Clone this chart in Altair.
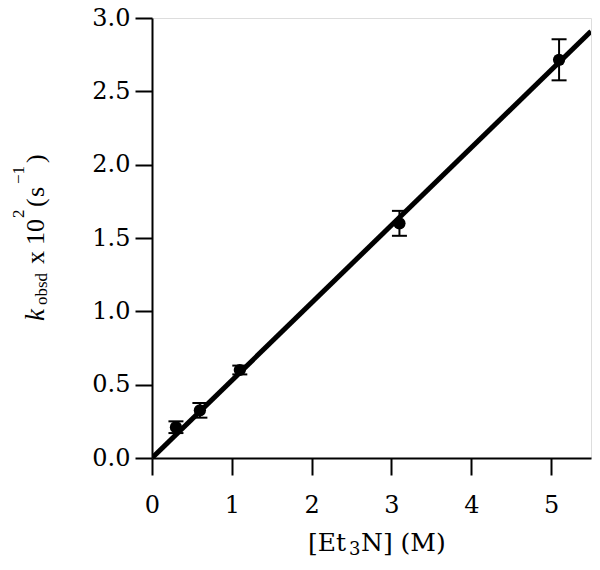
import altair as alt
import pandas as pd

# ---- data ----
conc = [0.3, 0.6, 1.1, 3.1, 5.1]          # [Et3N] (M)
kobs = [0.21, 0.325, 0.60, 1.60, 2.715]   # k_obsd x 10^2 (s^-1)
err = [0.04, 0.05, 0.03, 0.085, 0.14]     # error bar half-widths
fit_x = [0.0, 5.5]
fit_y = [0.0, 2.91]
x_ticks = [0, 1, 2, 3, 4, 5]
y_ticks = [0.0, 0.5, 1.0, 1.5, 2.0, 2.5, 3.0]

FONT = "DejaVu Serif"
TFONT = "Liberation Serif"

df = pd.DataFrame({
    "x": conc,
    "y": kobs,
    "lo": [v - e for v, e in zip(kobs, err)],
    "hi": [v + e for v, e in zip(kobs, err)],
})
fit = pd.DataFrame({"x": fit_x, "y": fit_y})
one = pd.DataFrame({"a": [0]})

LEFT = 152   # page x of plot left edge
TOP = 18     # page y of plot top edge
W = 439
H = 440

xscale = alt.Scale(domain=[0, 5.5], nice=False, zero=False)
yscale = alt.Scale(domain=[0, 3.0], nice=False, zero=False)

xaxis = alt.Axis(values=x_ticks, format="d", grid=False, tickSize=17, tickWidth=2,
                 tickColor="black", domainColor="black", domainWidth=2,
                 labelFont=FONT, labelFontSize=24, labelColor="black", labelPadding=18,
                 labelFlush=False, title=None)
yaxis = alt.Axis(values=y_ticks, format=".1f", grid=False, tickSize=17, tickWidth=2,
                 tickColor="black", domainColor="black", domainWidth=2,
                 labelFont=FONT, labelFontSize=24, labelColor="black", labelPadding=5,
                 labelFlush=False, title=None)

line = alt.Chart(fit).mark_line(color="black", strokeWidth=5, clip=True).encode(
    x=alt.X("x:Q", scale=xscale, axis=xaxis),
    y=alt.Y("y:Q", scale=yscale, axis=yaxis),
)
bars = alt.Chart(df).mark_rule(color="black", strokeWidth=2).encode(
    x="x:Q", y="lo:Q", y2="hi:Q"
)
cap_lo = alt.Chart(df).mark_tick(color="black", orient="horizontal", size=15,
                                 thickness=2, opacity=1).encode(x="x:Q", y="lo:Q")
cap_hi = alt.Chart(df).mark_tick(color="black", orient="horizontal", size=15,
                                 thickness=2, opacity=1).encode(x="x:Q", y="hi:Q")
pts = alt.Chart(df).mark_circle(color="black", size=150, opacity=1).encode(
    x="x:Q", y="y:Q"
)


def piece(txt, px, py, size, font, italic=False, angle=270):
    kw = dict(text=txt, font=font, fontSize=size,
              fontStyle="italic" if italic else "normal",
              align="left", baseline="alphabetic", color="black")
    if angle:
        kw["angle"] = angle
    return alt.Chart(one).mark_text(**kw).encode(
        x=alt.value(px - LEFT), y=alt.value(py - TOP))


# y-axis title: k_obsd x 10^2 (s^-1), read bottom to top
y_title = [
    piece("k", 44, 321, 27, TFONT, italic=True),
    piece("obsd", 47, 305, 17, TFONT),
    piece("x", 44, 264, 26, TFONT),
    piece("10", 44, 245, 26, TFONT),
    piece("2", 24, 218, 17, TFONT),
    piece("(", 44, 207, 26, TFONT),
    piece("s", 44, 197, 26, TFONT),
    piece("−1", 24, 184, 17, TFONT),
    piece(")", 44, 163, 26, TFONT),
]

# x-axis title: [Et3N] (M)
x_title = [
    piece("[Et", 308, 551, 25, FONT, angle=0),
    piece("3", 349, 555, 18, FONT, angle=0),
    piece("N] (M)", 361, 551, 25, FONT, angle=0),
]

chart = alt.layer(line, bars, cap_lo, cap_hi, pts, *y_title, *x_title).properties(
    width=W, height=H,
    autosize=alt.AutoSizeParams(type="none"),
    padding={"left": LEFT - 8, "top": TOP - 8, "right": 1, "bottom": 101},
).configure_view(stroke="black", strokeWidth=2).configure(background="white")

chart.save("out.html", embed_options={"renderer": "svg", "actions": False})
